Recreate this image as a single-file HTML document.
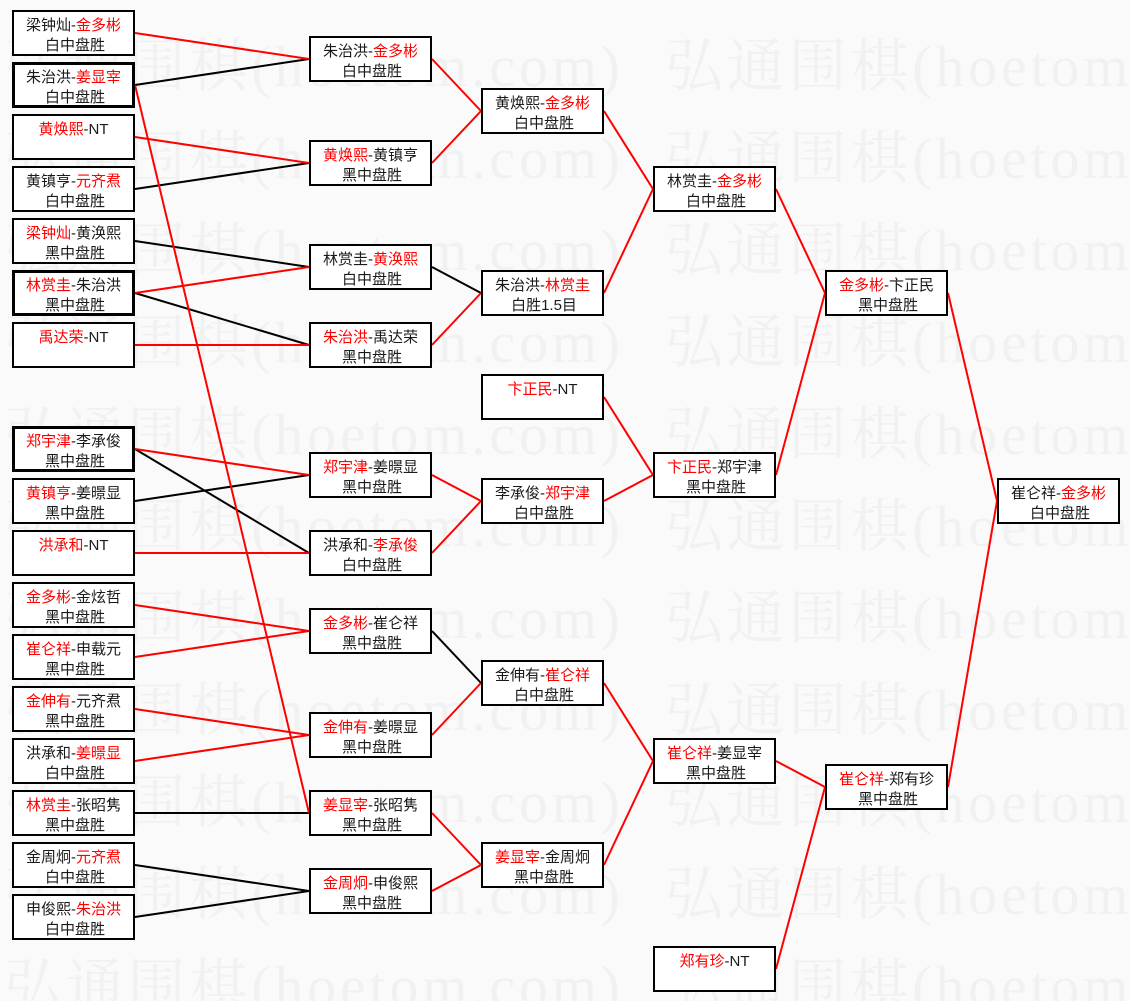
<!DOCTYPE html>
<html>
<head>
<meta charset="utf-8">
<style>
html,body{margin:0;padding:0;background:#fafafa;}
svg{display:block;}
.t{font-family:"Liberation Sans","Noto Sans CJK SC",sans-serif;font-size:15px;fill:#1a1a1a;}
.r{fill:#f00;}
.wm{font-family:"Liberation Serif","Noto Serif CJK SC",serif;font-size:58px;fill:#f1f1f1;}
</style>
</head>
<body>
<svg width="1130" height="1001" viewBox="0 0 1130 1001" xmlns="http://www.w3.org/2000/svg">
<rect width="1130" height="1001" fill="#fafafa"/>
<!-- watermark -->
<g class="wm">
<text x="4" y="86" textLength="616" lengthAdjust="spacing">弘通围棋(hoetom.com)</text>
<text x="665" y="86" textLength="616" lengthAdjust="spacing">弘通围棋(hoetom.com)</text>
<text x="4" y="178" textLength="616" lengthAdjust="spacing">弘通围棋(hoetom.com)</text>
<text x="665" y="178" textLength="616" lengthAdjust="spacing">弘通围棋(hoetom.com)</text>
<text x="4" y="270" textLength="616" lengthAdjust="spacing">弘通围棋(hoetom.com)</text>
<text x="665" y="270" textLength="616" lengthAdjust="spacing">弘通围棋(hoetom.com)</text>
<text x="4" y="362" textLength="616" lengthAdjust="spacing">弘通围棋(hoetom.com)</text>
<text x="665" y="362" textLength="616" lengthAdjust="spacing">弘通围棋(hoetom.com)</text>
<text x="4" y="454" textLength="616" lengthAdjust="spacing">弘通围棋(hoetom.com)</text>
<text x="665" y="454" textLength="616" lengthAdjust="spacing">弘通围棋(hoetom.com)</text>
<text x="4" y="546" textLength="616" lengthAdjust="spacing">弘通围棋(hoetom.com)</text>
<text x="665" y="546" textLength="616" lengthAdjust="spacing">弘通围棋(hoetom.com)</text>
<text x="4" y="638" textLength="616" lengthAdjust="spacing">弘通围棋(hoetom.com)</text>
<text x="665" y="638" textLength="616" lengthAdjust="spacing">弘通围棋(hoetom.com)</text>
<text x="4" y="730" textLength="616" lengthAdjust="spacing">弘通围棋(hoetom.com)</text>
<text x="665" y="730" textLength="616" lengthAdjust="spacing">弘通围棋(hoetom.com)</text>
<text x="4" y="822" textLength="616" lengthAdjust="spacing">弘通围棋(hoetom.com)</text>
<text x="665" y="822" textLength="616" lengthAdjust="spacing">弘通围棋(hoetom.com)</text>
<text x="4" y="914" textLength="616" lengthAdjust="spacing">弘通围棋(hoetom.com)</text>
<text x="665" y="914" textLength="616" lengthAdjust="spacing">弘通围棋(hoetom.com)</text>
<text x="4" y="1006" textLength="616" lengthAdjust="spacing">弘通围棋(hoetom.com)</text>
<text x="665" y="1006" textLength="616" lengthAdjust="spacing">弘通围棋(hoetom.com)</text>
</g>

<!-- black connectors -->
<g stroke="#000" stroke-width="2" fill="none">
<line x1="135" y1="85" x2="309" y2="59"/>
<line x1="135" y1="189" x2="309" y2="163"/>
<line x1="135" y1="241" x2="309" y2="267"/>
<line x1="135" y1="293" x2="309" y2="345"/>
<line x1="135" y1="449" x2="309" y2="553"/>
<line x1="135" y1="501" x2="309" y2="475"/>
<line x1="135" y1="813" x2="309" y2="813"/>
<line x1="135" y1="865" x2="309" y2="891"/>
<line x1="135" y1="917" x2="309" y2="891"/>
<line x1="432" y1="267" x2="481" y2="293"/>
<line x1="432" y1="631" x2="481" y2="683"/>
</g>
<!-- red connectors -->
<g stroke="#f00" stroke-width="2" fill="none">
<line x1="135" y1="33" x2="309" y2="59"/>
<line x1="135" y1="85" x2="309" y2="813"/>
<line x1="135" y1="137" x2="309" y2="163"/>
<line x1="135" y1="293" x2="309" y2="267"/>
<line x1="135" y1="345" x2="309" y2="345"/>
<line x1="135" y1="449" x2="309" y2="475"/>
<line x1="135" y1="553" x2="309" y2="553"/>
<line x1="135" y1="605" x2="309" y2="631"/>
<line x1="135" y1="657" x2="309" y2="631"/>
<line x1="135" y1="709" x2="309" y2="735"/>
<line x1="135" y1="761" x2="309" y2="735"/>

<line x1="432" y1="59" x2="481" y2="111"/>
<line x1="432" y1="163" x2="481" y2="111"/>
<line x1="432" y1="345" x2="481" y2="293"/>
<line x1="432" y1="475" x2="481" y2="501"/>
<line x1="432" y1="553" x2="481" y2="501"/>
<line x1="432" y1="735" x2="481" y2="683"/>
<line x1="432" y1="813" x2="481" y2="865"/>
<line x1="432" y1="891" x2="481" y2="865"/>

<line x1="604" y1="111" x2="653" y2="189"/>
<line x1="604" y1="293" x2="653" y2="189"/>
<line x1="604" y1="397" x2="653" y2="475"/>
<line x1="604" y1="501" x2="653" y2="475"/>
<line x1="604" y1="683" x2="653" y2="761"/>
<line x1="604" y1="865" x2="653" y2="761"/>

<line x1="776" y1="189" x2="825" y2="293"/>
<line x1="776" y1="475" x2="825" y2="293"/>
<line x1="776" y1="761" x2="825" y2="787"/>
<line x1="776" y1="969" x2="825" y2="787"/>

<line x1="948" y1="293" x2="997" y2="501"/>
<line x1="948" y1="787" x2="997" y2="501"/>
</g>

<!-- boxes: normal -->
<g fill="#fff" stroke="#000" stroke-width="2">
<rect x="13" y="11" width="121" height="44"/>
<rect x="13" y="115" width="121" height="44"/>
<rect x="13" y="167" width="121" height="44"/>
<rect x="13" y="219" width="121" height="44"/>
<rect x="13" y="323" width="121" height="44"/>
<rect x="13" y="479" width="121" height="44"/>
<rect x="13" y="531" width="121" height="44"/>
<rect x="13" y="583" width="121" height="44"/>
<rect x="13" y="635" width="121" height="44"/>
<rect x="13" y="687" width="121" height="44"/>
<rect x="13" y="739" width="121" height="44"/>
<rect x="13" y="791" width="121" height="44"/>
<rect x="13" y="843" width="121" height="44"/>
<rect x="13" y="895" width="121" height="44"/>

<rect x="310" y="37" width="121" height="44"/>
<rect x="310" y="141" width="121" height="44"/>
<rect x="310" y="245" width="121" height="44"/>
<rect x="310" y="323" width="121" height="44"/>
<rect x="310" y="453" width="121" height="44"/>
<rect x="310" y="531" width="121" height="44"/>
<rect x="310" y="609" width="121" height="44"/>
<rect x="310" y="713" width="121" height="44"/>
<rect x="310" y="791" width="121" height="44"/>
<rect x="310" y="869" width="121" height="44"/>

<rect x="482" y="89" width="121" height="44"/>
<rect x="482" y="271" width="121" height="44"/>
<rect x="482" y="375" width="121" height="44"/>
<rect x="482" y="479" width="121" height="44"/>
<rect x="482" y="661" width="121" height="44"/>
<rect x="482" y="843" width="121" height="44"/>

<rect x="654" y="167" width="121" height="44"/>
<rect x="654" y="453" width="121" height="44"/>
<rect x="654" y="739" width="121" height="44"/>
<rect x="654" y="947" width="121" height="44"/>

<rect x="826" y="271" width="121" height="44"/>
<rect x="826" y="765" width="121" height="44"/>

<rect x="998" y="479" width="121" height="44"/>
</g>
<!-- boxes: thick -->
<g fill="#fff" stroke="#000" stroke-width="3">
<rect x="13.5" y="63.5" width="120" height="43"/>
<rect x="13.5" y="271.5" width="120" height="43"/>
<rect x="13.5" y="427.5" width="120" height="43"/>
</g>

<!-- text column 1 -->
<g class="t" text-anchor="middle">
<text x="73.5" y="30">梁钟灿-<tspan class="r">金多彬</tspan></text><text x="75" y="50">白中盘胜</text>
<text x="73.5" y="82">朱治洪-<tspan class="r">姜显宰</tspan></text><text x="75" y="102">白中盘胜</text>
<text x="73.5" y="134"><tspan class="r">黄焕熙</tspan>-NT</text>
<text x="73.5" y="186">黄镇亨-<tspan class="r">元齐焄</tspan></text><text x="75" y="206">白中盘胜</text>
<text x="73.5" y="238"><tspan class="r">梁钟灿</tspan>-黄涣熙</text><text x="75" y="258">黑中盘胜</text>
<text x="73.5" y="290"><tspan class="r">林赏圭</tspan>-朱治洪</text><text x="75" y="310">黑中盘胜</text>
<text x="73.5" y="342"><tspan class="r">禹达荣</tspan>-NT</text>
<text x="73.5" y="446"><tspan class="r">郑宇津</tspan>-李承俊</text><text x="75" y="466">黑中盘胜</text>
<text x="73.5" y="498"><tspan class="r">黄镇亨</tspan>-姜暻显</text><text x="75" y="518">黑中盘胜</text>
<text x="73.5" y="550"><tspan class="r">洪承和</tspan>-NT</text>
<text x="73.5" y="602"><tspan class="r">金多彬</tspan>-金炫哲</text><text x="75" y="622">黑中盘胜</text>
<text x="73.5" y="654"><tspan class="r">崔仑祥</tspan>-申载元</text><text x="75" y="674">黑中盘胜</text>
<text x="73.5" y="706"><tspan class="r">金伸有</tspan>-元齐焄</text><text x="75" y="726">黑中盘胜</text>
<text x="73.5" y="758">洪承和-<tspan class="r">姜暻显</tspan></text><text x="75" y="778">白中盘胜</text>
<text x="73.5" y="810"><tspan class="r">林赏圭</tspan>-张昭隽</text><text x="75" y="830">黑中盘胜</text>
<text x="73.5" y="862">金周炯-<tspan class="r">元齐焄</tspan></text><text x="75" y="882">白中盘胜</text>
<text x="73.5" y="914">申俊熙-<tspan class="r">朱治洪</tspan></text><text x="75" y="934">白中盘胜</text>
</g>

<!-- text column 2 -->
<g class="t" text-anchor="middle">
<text x="370.5" y="56">朱治洪-<tspan class="r">金多彬</tspan></text><text x="372" y="76">白中盘胜</text>
<text x="370.5" y="160"><tspan class="r">黄焕熙</tspan>-黄镇亨</text><text x="372" y="180">黑中盘胜</text>
<text x="370.5" y="264">林赏圭-<tspan class="r">黄涣熙</tspan></text><text x="372" y="284">白中盘胜</text>
<text x="370.5" y="342"><tspan class="r">朱治洪</tspan>-禹达荣</text><text x="372" y="362">黑中盘胜</text>
<text x="370.5" y="472"><tspan class="r">郑宇津</tspan>-姜暻显</text><text x="372" y="492">黑中盘胜</text>
<text x="370.5" y="550">洪承和-<tspan class="r">李承俊</tspan></text><text x="372" y="570">白中盘胜</text>
<text x="370.5" y="628"><tspan class="r">金多彬</tspan>-崔仑祥</text><text x="372" y="648">黑中盘胜</text>
<text x="370.5" y="732"><tspan class="r">金伸有</tspan>-姜暻显</text><text x="372" y="752">黑中盘胜</text>
<text x="370.5" y="810"><tspan class="r">姜显宰</tspan>-张昭隽</text><text x="372" y="830">黑中盘胜</text>
<text x="370.5" y="888"><tspan class="r">金周炯</tspan>-申俊熙</text><text x="372" y="908">黑中盘胜</text>
</g>

<!-- text column 3 -->
<g class="t" text-anchor="middle">
<text x="542.5" y="108">黄焕熙-<tspan class="r">金多彬</tspan></text><text x="544" y="128">白中盘胜</text>
<text x="542.5" y="290">朱治洪-<tspan class="r">林赏圭</tspan></text><text x="544" y="310">白胜1.5目</text>
<text x="542.5" y="394"><tspan class="r">卞正民</tspan>-NT</text>
<text x="542.5" y="498">李承俊-<tspan class="r">郑宇津</tspan></text><text x="544" y="518">白中盘胜</text>
<text x="542.5" y="680">金伸有-<tspan class="r">崔仑祥</tspan></text><text x="544" y="700">白中盘胜</text>
<text x="542.5" y="862"><tspan class="r">姜显宰</tspan>-金周炯</text><text x="544" y="882">黑中盘胜</text>
</g>

<!-- text column 4 -->
<g class="t" text-anchor="middle">
<text x="714.5" y="186">林赏圭-<tspan class="r">金多彬</tspan></text><text x="716" y="206">白中盘胜</text>
<text x="714.5" y="472"><tspan class="r">卞正民</tspan>-郑宇津</text><text x="716" y="492">黑中盘胜</text>
<text x="714.5" y="758"><tspan class="r">崔仑祥</tspan>-姜显宰</text><text x="716" y="778">黑中盘胜</text>
<text x="714.5" y="966"><tspan class="r">郑有珍</tspan>-NT</text>
</g>

<!-- text column 5 -->
<g class="t" text-anchor="middle">
<text x="886.5" y="290"><tspan class="r">金多彬</tspan>-卞正民</text><text x="888" y="310">黑中盘胜</text>
<text x="886.5" y="784"><tspan class="r">崔仑祥</tspan>-郑有珍</text><text x="888" y="804">黑中盘胜</text>
</g>

<!-- text column 6 -->
<g class="t" text-anchor="middle">
<text x="1058.5" y="498">崔仑祥-<tspan class="r">金多彬</tspan></text><text x="1060" y="518">白中盘胜</text>
</g>
</svg>
</body>
</html>
